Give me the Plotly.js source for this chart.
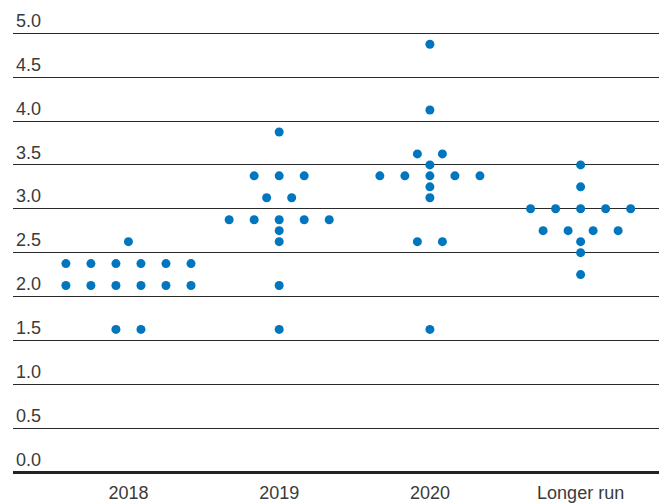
<!DOCTYPE html>
<html>
<head>
<meta charset="utf-8">
<script src="https://cdn.plot.ly/plotly-3.0.1.min.js"></script>
<style>html,body{margin:0;padding:0;background:#fff;}#chart{width:664px;height:504px;}</style>
</head>
<body>
<div id="chart"></div>
<script>
// Categories (x positions 0..3)
const categories = ["2018", "2019", "2020", "Longer run"];
// Each participant's projection (one dot each)
const values2018 = [1.625, 1.625, 2.125, 2.125, 2.125, 2.125, 2.125, 2.125, 2.375, 2.375, 2.375, 2.375, 2.375, 2.375, 2.625];
const values2019 = [1.625, 2.125, 2.625, 2.75, 2.875, 2.875, 2.875, 2.875, 2.875, 3.125, 3.125, 3.375, 3.375, 3.375, 3.875];
const values2020 = [1.625, 2.625, 2.625, 3.125, 3.25, 3.375, 3.375, 3.375, 3.375, 3.375, 3.5, 3.625, 3.625, 4.125, 4.875];
const valuesLonger = [2.25, 2.5, 2.625, 2.75, 2.75, 2.75, 2.75, 3.0, 3.0, 3.0, 3.0, 3.0, 3.25, 3.5];
const yTicks = [0, 0.5, 1, 1.5, 2, 2.5, 3, 3.5, 4, 4.5, 5];
const yTickLabels = ["0.0", "0.5", "1.0", "1.5", "2.0", "2.5", "3.0", "3.5", "4.0", "4.5", "5.0"];

const allSeries = [values2018, values2019, values2020, valuesLonger];
const STEP = 0.166; // horizontal spacing between dots sharing a value

const xs = [], ys = [];
allSeries.forEach((vals, ci) => {
  const counts = {};
  vals.forEach(v => { counts[v] = (counts[v] || 0) + 1; });
  Object.keys(counts).forEach(k => {
    const n = counts[k];
    for (let i = 0; i < n; i++) {
      xs.push(ci + (i - (n - 1) / 2) * STEP);
      ys.push(parseFloat(k));
    }
  });
});

const trace = {
  x: xs, y: ys, type: "scatter", mode: "markers",
  marker: {color: "#0076bf", size: 9, line: {width: 0}},
  hoverinfo: "y", cliponaxis: false
};

const layout = {
  width: 664, height: 504,
  margin: {l: 13, r: 5, t: 10, b: 31.5, pad: 0},
  paper_bgcolor: "#fff", plot_bgcolor: "#fff",
  showlegend: false,
  font: {family: "Liberation Sans, Arial, sans-serif", size: 18, color: "#3a3a3a"},
  xaxis: {
    range: [-0.766, 3.52],
    tickmode: "array", tickvals: [0, 1, 2, 3], ticktext: categories,
    showgrid: false, zeroline: false, showline: false, ticks: "",
    tickfont: {size: 18, color: "#3a3a3a"}, ticklabelstandoff: 8, fixedrange: true
  },
  yaxis: {
    range: [0, 5.265],
    tickmode: "array", tickvals: yTicks, ticktext: yTickLabels,
    ticklabelposition: "inside top",
    showgrid: true, gridcolor: "#2a2a2a", gridwidth: 1,
    zeroline: true, zerolinecolor: "#222", zerolinewidth: 3,
    showline: false, ticks: "",
    tickfont: {size: 18, color: "#3a3a3a"}, fixedrange: true
  }
};

Plotly.newPlot("chart", [trace], layout, {displayModeBar: false, staticPlot: true});
</script>
</body>
</html>
